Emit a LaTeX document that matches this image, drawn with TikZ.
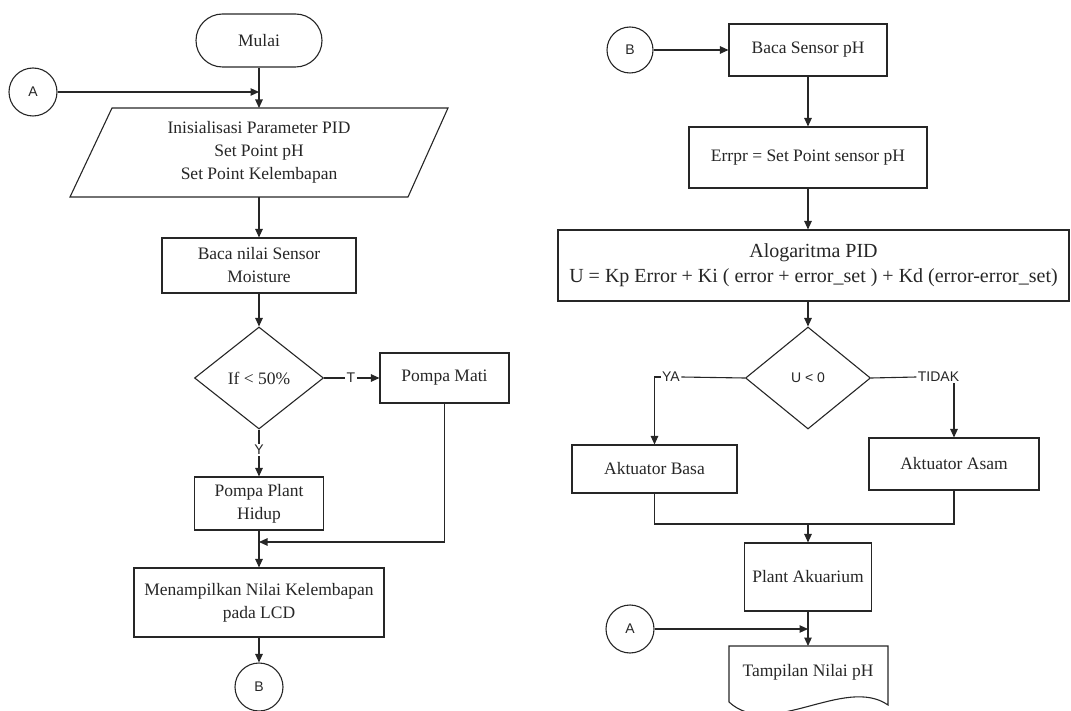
\documentclass[tikz,border=0pt]{standalone}
\usepackage{fontspec}
\setmainfont{Liberation Serif}
\newfontfamily\labelfont{Liberation Sans}
\usetikzlibrary{arrows.meta,shapes.geometric,shapes.misc}
\begin{document}
\begin{tikzpicture}[x=1pt,y=-1pt,
  color=black!85,
  line width=1.1pt,
  txt/.style={font=\fontsize{17.5}{23}\selectfont, align=center},
  box/.style={txt, draw, rectangle, inner sep=2pt},
  term/.style={txt, draw, rounded rectangle, inner sep=2pt},
  conn/.style={draw, circle, minimum size=48pt, inner sep=0pt, font=\labelfont\fontsize{14}{16}\selectfont},
  dec/.style={draw, diamond, inner sep=0pt, font=\labelfont\fontsize{14}{16}\selectfont},
  lbl/.style={font=\labelfont\fontsize{14}{16}\selectfont, inner sep=1pt},
  arr/.style={-{Triangle[length=8.5pt,width=7.5pt]}},
]
\useasboundingbox (0,0) rectangle (1071,711);

% ---------------- left column ----------------
\node[term, minimum width=130pt, minimum height=53pt] (mulai) at (259,40.5) {Mulai};
\node[conn] (a1) at (33,92) {A};

\coordinate (pTL) at (112,108);
\coordinate (pTR) at (448,108);
\coordinate (pBR) at (408,197);
\coordinate (pBL) at (70,197);
\coordinate (partop) at (259,108);
\coordinate (parbot) at (259,197);
\draw (pTL) -- (pTR) -- (pBR) -- (pBL) -- cycle;
\node[txt] (par) at (259,152.5) {Inisialisasi Parameter PID\\Set Point pH\\Set Point Kelembapan};

\node[box, minimum width=194pt, minimum height=55pt] (baca1) at (259,265.5) {Baca nilai Sensor\\Moisture};
\node[dec, font=\fontsize{17.5}{23}\selectfont, minimum width=129pt, minimum height=102pt] (dia1) at (259,378) {If < 50\%};
\node[box, minimum width=129pt, minimum height=50pt] (mati) at (444.5,378) {Pompa Mati};
\node[box, minimum width=129pt, minimum height=53pt] (hidup) at (259,503.5) {Pompa Plant\\Hidup};
\node[box, minimum width=250pt, minimum height=69pt] (tampil) at (259,602.5) {Menampilkan Nilai Kelembapan\\pada LCD};
\node[conn] (b1) at (259,687) {B};

\node[lbl] (t) at (351,378) {T};
\node[lbl] (y) at (259,450) {Y};
\coordinate (j1) at (259,542);

\draw[arr] (mulai.south) -- (partop);
\draw[arr] (a1.east) -- (a1.east -| mulai.south);
\draw[arr] (parbot) -- (baca1.north);
\draw[arr] (baca1.south) -- (dia1.north);
\draw (dia1.east) -- (t.west);
\draw[arr] (t.east) -- (mati.west);
\draw (dia1.south) -- (y.north);
\draw[arr] (y.south) -- (hidup.north);
\draw[arr] (mati.south) |- (j1);
\draw[arr] (hidup.south) -- (tampil.north);
\draw[arr] (tampil.south) -- (b1.north);

% ---------------- right column ----------------
\node[conn, minimum size=46pt] (b2) at (630,50) {B};
\node[box, minimum width=158pt, minimum height=52pt] (bacaph) at (808,50) {Baca Sensor pH};
\node[box, minimum width=238pt, minimum height=61pt] (errpr) at (808,157.5) {Errpr = Set Point sensor pH};
\node[box, font=\fontsize{20}{25}\selectfont, minimum width=511pt, minimum height=71pt] (pid) at (813.5,265.5) {Alogaritma PID\\U = Kp Error + Ki ( error + error\_set ) + Kd (error-error\_set)};
\node[dec, minimum width=125pt, minimum height=102pt] (dia2) at (808,378) {U < 0};
\node[box, minimum width=165pt, minimum height=48pt] (basa) at (654.5,469) {Aktuator Basa};
\node[box, minimum width=170pt, minimum height=52pt] (asam) at (954,464) {Aktuator Asam};
\node[box, minimum width=127pt, minimum height=68pt] (plant) at (808,577) {Plant Akuarium};
\node[conn] (a2) at (630,629) {A};

\node[lbl] (ya) at (671,377) {YA};
\node[lbl] (tidak) at (938.5,377) {TIDAK};
\coordinate (m2) at (808,524);

\coordinate (dTL) at (729,646);
\coordinate (dTR) at (888,646);
\coordinate (dR) at (888,705);
\coordinate (dL) at (729,702);
\coordinate (dtop) at (808,646);
\draw (dL) -- (dTL) -- (dTR) -- (dR) .. controls (845,675) and (770,740) .. (dL);
\node[txt] (tampph) at (808,672) {Tampilan Nilai pH};

\draw[arr] (b2.east) -- (bacaph.west);
\draw[arr] (bacaph.south) -- (errpr.north);
\draw[arr] (errpr.south) -- (errpr.south |- pid.north);
\draw[arr] (errpr.south |- pid.south) -- (dia2.north);
\draw (dia2.west) -- (ya.east);
\draw[arr] (ya.west) -| (basa.north);
\draw (dia2.east) -- (tidak.west);
\draw[arr] (tidak.south -| asam.north) -- (asam.north);
\draw (basa.south) |- (m2) -| (asam.south);
\draw[arr] (m2) -- (plant.north);
\draw[arr] (plant.south) -- (dtop);
\draw[arr] (a2.east) -- (a2.east -| plant.south);
\end{tikzpicture}
\end{document}
